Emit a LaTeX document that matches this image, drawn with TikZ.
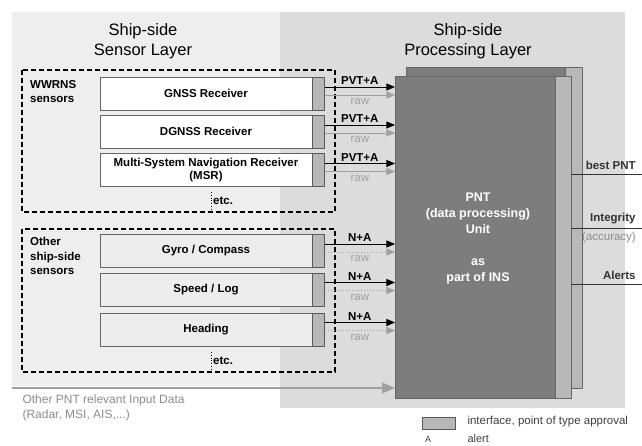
\documentclass[tikz,border=0pt]{standalone}
\usepackage{fontspec}
\setmainfont{Liberation Sans}
\usepackage{xcolor}
\usepackage{tikz}
\usetikzlibrary{arrows}
\usetikzlibrary{positioning}

\definecolor{layerA}{HTML}{EEEEEE}
\definecolor{layerB}{HTML}{DCDCDC}
\definecolor{unitgray}{HTML}{7D7D7D}
\definecolor{ifgray}{HTML}{B8B8B8}
\definecolor{rawgray}{HTML}{A0A0A0}
\definecolor{textgray}{HTML}{8C8C8C}

\tikzset{
  title/.style={align=center, font=\fontsize{16.5}{20}\selectfont},
  sensor/.style={draw=black!60, minimum width=212pt, minimum height=33pt, inner sep=0pt, align=center,
    font=\fontsize{11.5}{13}\selectfont\bfseries},
  iface/.style={draw=black!65, fill=ifgray, minimum width=12pt, minimum height=33pt, inner sep=0pt},
  grp/.style={draw, dash pattern=on 5pt off 3pt, line width=1.1pt},
  lbl/.style={font=\fontsize{11.5}{14.5}\selectfont\bfseries, inner sep=0pt},
  rawlbl/.style={font=\fontsize{11.5}{13}\selectfont, text=rawgray, inner sep=0pt},
  pvt/.style={-triangle 45, line width=1pt},
  raw/.style={-triangle 45, line width=1pt, rawgray},
  unit/.style={draw=black!60, fill=unitgray, inner sep=0pt, anchor=north west},
  strip/.style={draw=black!60, fill=ifgray, inner sep=0pt, anchor=north west},
  outp/.style={line width=0.8pt, black!80},
}

\begin{document}
\begin{tikzpicture}[x=1pt,y=-1pt]
    \useasboundingbox (0,0) rectangle (642,445);
    \fill[layerA] (12,12) rectangle (280,386);
    \fill[layerB] (280,12) rectangle (625,408);

    \node[title] (senslayer) at (143,41) {Ship-side\\Sensor Layer};
    \node[title] (proclayer) at (468,41) {Ship-side\\Processing Layer};

    \node[unit, minimum width=159pt, minimum height=321pt] (pntback) at (406,67) {};
    \node[strip, minimum width=17pt, minimum height=321pt] (stripback) at (565,67) {};
    \node[unit, minimum width=160pt, minimum height=322pt] (pnt) at (395,76) {};
    \node[strip, minimum width=16pt, minimum height=322pt] (strip) at (555,76) {};
    \node[align=center, text=white, font=\fontsize{12.5}{16}\selectfont\bfseries] (pnttext) at (478,238)
      {PNT\\(data processing)\\Unit\\[16pt]as\\part of INS};

    \draw[grp] (22,70) rectangle (335,212);
    \draw[grp] (22,229) rectangle (335,372);
    \node[lbl, align=left, anchor=north west] (wwrns) at (30,80) {WWRNS\\sensors};
    \node[lbl, align=left, anchor=north west] (other) at (30,237) {Other\\ship-side\\sensors};

    \foreach \n/\yc/\txt in {1/93.5/GNSS Receiver, 2/131.5/DGNSS Receiver, 3/170/{Multi-System  Navigation Receiver\\(MSR)}}
    {
    \node[sensor, fill=white] (s\n) at (206,\yc) {\txt};
    \node[iface, right=0pt of s\n] (if\n) {};
    \draw[pvt] ([yshift=6.5pt]if\n.east) -- ([yshift=6.5pt]if\n.east -| pnt.west) node[lbl, midway, above=2pt] {PVT+A};
    \draw[raw] ([yshift=-1.5pt]if\n.east) -- ([yshift=-1.5pt]if\n.east -| pnt.west) node[rawlbl, midway, below=3pt] {raw};
    }
    \foreach \n/\yc/\txt in {4/251/{Gyro / Compass}, 5/289.5/{Speed / Log}, 6/329.5/Heading}
    {
    \node[sensor, fill=black!7] (s\n) at (206,\yc) {\txt};
    \node[iface, right=0pt of s\n] (if\n) {};
    \draw[pvt] ([yshift=7pt]if\n.east) -- ([yshift=7pt]if\n.east -| pnt.west) node[lbl, midway, above=2pt] {N+A};
    \draw[raw, dotted] ([yshift=-1pt]if\n.east) -- ([yshift=-1pt]if\n.east -| pnt.west) node[rawlbl, midway, below=3pt] {raw};
    }
    \foreach \y/\n in {201/etc1, 361/etc2}
    {
    \draw[dotted, line width=0.8pt] (211,\y-9) -- (211,\y+8);
    \node[lbl, anchor=west] (\n) at (213,\y) {etc.};
    }

    \coordinate (otherin) at (12,388);
    \draw[raw, line width=2pt] (otherin) -- (otherin -| pnt.west);
    \node[align=left, anchor=north west, text=textgray, font=\fontsize{12}{15}\selectfont] (otherlab) at (19,391)
      {Other PNT relevant Input Data\\(Radar, MSI, AIS,...)};

    \coordinate (bestend) at (642,174);
    \coordinate (integend) at (642,228);
    \coordinate (alertend) at (642,284);
    \draw[outp] (bestend -| strip.east) -- (bestend) node[lbl, pos=1, above left=4pt and 6pt, anchor=south east] {best PNT};
    \draw[outp] (integend -| strip.east) -- (integend) node[lbl, pos=1, above left=4pt and 6pt, anchor=south east] {Integrity};
    \node[rawlbl, text=textgray, anchor=north east] (accuracy) at (636,232) {(accuracy)};
    \draw[outp] (alertend -| strip.east) -- (alertend) node[lbl, pos=1, above left=4pt and 6pt, anchor=south east] {Alerts};

    \node[draw=black!65, fill=ifgray, minimum width=33pt, minimum height=12pt, inner sep=0pt] (legif) at (438.5,423) {};
    \node[anchor=west, font=\fontsize{11.5}{13}\selectfont, text=black!75] (legiftxt) at (464,422) {interface, point of type approval};
    \node[font=\fontsize{9}{11}\selectfont, text=black!75] (legA) at (428,439) {A};
    \node[anchor=west, font=\fontsize{11}{13}\selectfont, text=black!75, inner ysep=1pt] (legAtxt) at (464,439) {alert};
\end{tikzpicture}
\end{document}
